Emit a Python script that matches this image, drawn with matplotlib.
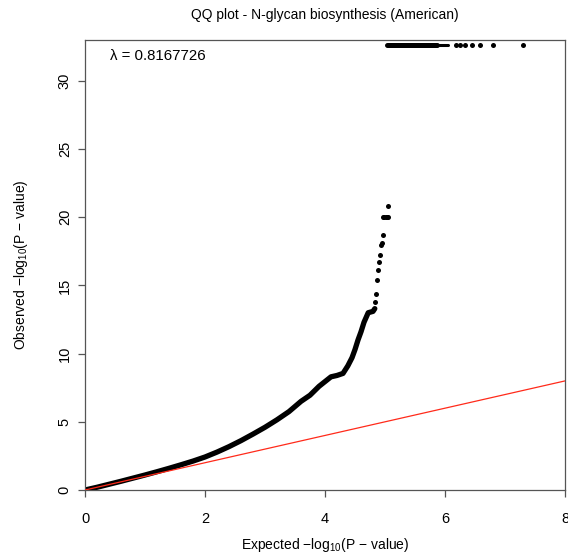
import matplotlib
matplotlib.use("Agg")
import matplotlib.pyplot as plt

plt.rcParams['font.family'] = ['Liberation Sans', 'DejaVu Sans']
plt.rcParams['mathtext.fontset'] = 'custom'
plt.rcParams['mathtext.rm'] = 'Liberation Sans'
plt.rcParams['mathtext.it'] = 'Liberation Sans:italic'
plt.rcParams['mathtext.bf'] = 'Liberation Sans:bold'

# --- data ---
title = "QQ plot - N-glycan biosynthesis (American)"
lambda_text = "λ = 0.8167726"

# main (dense) part of the QQ curve: expected vs observed -log10(p)
curve_x = [0.0, 0.2, 0.4, 0.6, 0.8, 1.0, 1.2, 1.4, 1.6, 1.8, 2.0, 2.2, 2.4,
           2.6, 2.8, 3.0, 3.2, 3.4, 3.6, 3.75, 3.9, 4.0, 4.1, 4.2, 4.3, 4.38,
           4.45, 4.5, 4.55, 4.6, 4.65, 4.72, 4.8, 4.83]
curve_y = [0.0, 0.2, 0.42, 0.64, 0.87, 1.1, 1.34, 1.59, 1.85, 2.12, 2.42,
           2.78, 3.18, 3.62, 4.1, 4.6, 5.15, 5.75, 6.5, 6.95, 7.6, 7.95, 8.3,
           8.4, 8.55, 9.1, 9.7, 10.3, 11.0, 11.6, 12.3, 13.0, 13.1, 13.3]

# sparse tail points
tail_x = [4.83, 4.85, 4.87, 4.88, 4.9, 4.92, 4.93, 4.95, 4.97, 4.97, 4.99,
          5.01, 5.03, 5.05, 5.05]
tail_y = [13.8, 14.4, 15.4, 16.1, 16.7, 17.2, 18.0, 18.1, 18.7, 20.0, 20.0,
          20.0, 20.0, 20.0, 20.8]

# saturated points at the top
top_y = 32.65
top_dense_x = [5.03, 5.87]
top_thin_x = [5.87, 6.05]
top_dots_x = [6.18, 6.25, 6.33, 6.45, 6.58, 6.8, 7.3]

# reference line y = x
ref_x = [0, 8]
ref_y = [0, 8]

xticks = [0, 2, 4, 6, 8]
yticks = [0, 5, 10, 15, 20, 25, 30]

fig = plt.figure(figsize=(5.68, 5.56), dpi=100)
ax = fig.add_axes([85/568, 66/556, 480/568, 450/556])

ax.plot(curve_x, curve_y, color='black', lw=3.8, solid_capstyle='round',
        solid_joinstyle='round', zorder=2)
ax.plot(tail_x, tail_y, 'o', color='black', ms=3.6, mew=0, zorder=3)
ax.plot(top_dense_x, [top_y]*2, color='black', lw=3.6, solid_capstyle='round', zorder=3)
ax.plot(top_thin_x, [top_y]*2, color='black', lw=2.2, solid_capstyle='round', zorder=3)
ax.plot(top_dots_x, [top_y]*len(top_dots_x), 'o', color='black', ms=3.6, mew=0, zorder=3)
ax.plot(ref_x, ref_y, color='#ff2a1a', lw=0.9, zorder=4)

ax.set_xlim(0, 8)
ax.set_ylim(0, 33)
ax.set_xticks(xticks)
ax.set_yticks(yticks)
ax.set_xticklabels([str(t) for t in xticks])
ax.set_yticklabels([str(t) for t in yticks], rotation=90, va='center')

edge = '#555555'
for s in ax.spines.values():
    s.set_color(edge)
    s.set_linewidth(0.9)
ax.tick_params(axis='both', direction='out', length=5, width=0.9, color=edge,
               labelsize=10.5, labelcolor='black')
ax.tick_params(axis='x', pad=11)
ax.tick_params(axis='y', pad=4.5)

ax.set_xlabel(r'Expected $-\mathrm{log}_{10}$(P $-$ value)', fontsize=10)
ax.set_ylabel(r'Observed $-\mathrm{log}_{10}$(P $-$ value)', fontsize=10)
ax.xaxis.set_label_coords(0.5, (490 - 545) / 450)
ax.xaxis.label.set_va('center')
ax.yaxis.set_label_coords((21 - 85) / 480, 0.5)
ax.yaxis.label.set_va('center')
fig.text(325/568, 1 - 15/556, title, ha='center', va='center', fontsize=10)
ax.text(0.42, 31.8, lambda_text, ha='left', va='center', fontsize=10.8)

fig.savefig('out.png', dpi=100)
